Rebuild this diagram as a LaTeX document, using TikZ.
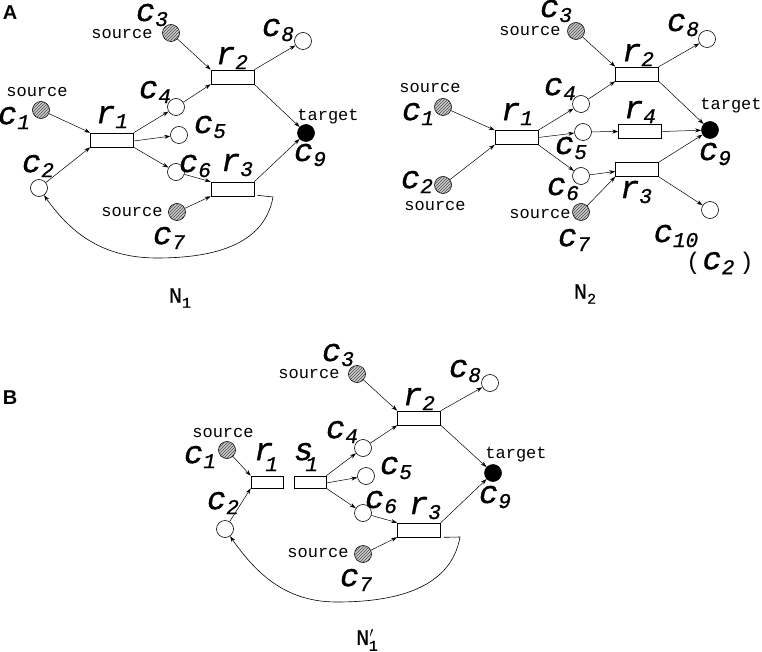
\documentclass[tikz,border=0pt]{standalone}
\usepackage{fontspec}
\setmonofont{Liberation Mono}
\setsansfont{Liberation Sans}
\newfontfamily\lfont[ItalicFeatures={FakeBold=0.9}]{Liberation Mono}
\newfontfamily\nfont[FakeBold=0.6]{Liberation Mono}
\usetikzlibrary{arrows.meta,patterns}
\newcommand\lb[2]{{\lfont\itshape\fontsize{32}{32}\selectfont #1\raisebox{-5pt}{\fontsize{21}{21}\selectfont #2}}}
\newcommand\lbd[2]{{\lfont\itshape\fontsize{32}{32}\selectfont #1\kern-8pt\raisebox{-11pt}{\fontsize{21}{21}\selectfont #2}}}
\tikzset{
  cir/.style={circle, draw, minimum size=17pt, inner sep=0pt, line width=0.6pt},
  src/.style={cir, fill=gray!40, postaction={pattern=north east lines, pattern color=black!70}},
  tgt/.style={cir, fill=black},
  rx/.style={rectangle, draw, minimum width=43pt, minimum height=14pt, inner sep=0pt, line width=0.6pt},
  rxs/.style={rectangle, draw, minimum width=32pt, minimum height=12pt, inner sep=0pt, line width=0.6pt},
  ar/.style={-{Stealth[length=6pt,width=4pt]}, line width=0.5pt},
  curv/.style={line width=0.6pt},
  txt/.style={font=\ttfamily\fontsize{17}{17}\selectfont, inner sep=0pt},
  lab/.style={inner sep=0pt},
  panel/.style={font=\sffamily\bfseries\fontsize{20}{20}\selectfont, inner sep=0pt},
  net/.style={font=\nfont\fontsize{22}{22}\selectfont, inner sep=0pt}
}
\begin{document}
\begin{tikzpicture}[x=1pt,y=-1pt]
\useasboundingbox (0,0) rectangle (762,652);
% ---------------- Panel A ----------------
\node[panel] (pA) at (10,13) {A};
\node[src] (a3) at (171,33) {};
\node[cir] (a8) at (303,41) {};
\node[rx] (ar2) at (232.5,77) {};
\node[src] (a1) at (41,110) {};
\node[rx] (ar1) at (112,140) {};
\node[cir] (a4) at (176,107) {};
\node[cir] (a5) at (179,135) {};
\node[cir] (a6) at (176,172) {};
\node[rx] (ar3) at (232.5,189) {};
\node[tgt] (a9) at (306,133) {};
\node[cir] (a2) at (39,188) {};
\node[src] (a7) at (177,212) {};
\node[lab] (la3) at (152,15) {\lb{c}{3}};
\node[txt] (ls3) at (122,34) {source};
\node[lab] (la8) at (278,30) {\lb{c}{8}};
\node[lab] (lar2) at (232,58) {\lb{r}{2}};
\node[txt] (ls1) at (37,92) {source};
\node[lab] (la1) at (14,118) {\lb{c}{1}};
\node[lab] (lar1) at (112,117) {\lb{r}{1}};
\node[lab] (la4) at (155,92) {\lb{c}{4}};
\node[lab] (la5) at (210,127) {\lb{c}{5}};
\node[lab] (la6) at (195,166) {\lb{c}{6}};
\node[lab] (lar3) at (237,165) {\lb{r}{3}};
\node[lab] (la2) at (38,166) {\lb{c}{2}};
\node[lab] (la9) at (310,155) {\lb{c}{9}};
\node[txt] (lt9) at (328,117) {target};
\node[txt] (ls7) at (132,212) {source};
\node[lab] (la7) at (169,238) {\lb{c}{7}};
\node[net] (n1) at (180,298) {N\raisebox{-5pt}{\fontsize{15}{15}\selectfont 1}};
\draw[ar] (a3) -- (ar2.north west);
\draw[ar] (a4) -- (ar2.south west);
\draw[ar] (ar2.north east) -- (a8);
\draw[ar] (ar2.south east) -- (a9);
\draw[ar] (a1) -- (ar1.north west);
\draw[ar] (a2) -- (ar1.south west);
\draw[ar] (ar1.north east) -- (a4);
\draw[ar] ([yshift=-1pt]ar1.east) -- (a5);
\draw[ar] (ar1.south east) -- (a6);
\draw[ar] (a6) -- (ar3.north west);
\draw[ar] (a7) -- (ar3.south west);
\draw[ar] (ar3.north east) -- (a9);
\coordinate (ca0) at ([xshift=3pt,yshift=1pt]ar3.south east);
\coordinate (ca1) at (273,197);
\coordinate (ca2) at (157,258);
\draw[curv,-{Stealth[length=6pt,width=4pt]}] (ca0) -- (ca1) to[out=-100,in=0] (ca2) to[out=180,in=-55] (a2);
% ---------------- Panel A right (N2) ----------------
\node[src] (b3) at (576,31) {};
\node[cir] (b8) at (707,39) {};
\node[rx] (br2) at (637,74) {};
\node[src] (b1) at (443,107) {};
\node[rx] (br1) at (516.5,137.5) {};
\node[src] (b2) at (443,185) {};
\node[cir] (b4) at (581,104) {};
\node[cir] (b5) at (583,132) {};
\node[rx] (br4) at (640,131.5) {};
\node[tgt] (b9) at (710,130) {};
\node[cir] (b6) at (581,176) {};
\node[rx] (br3) at (637,169.5) {};
\node[src] (b7) at (581,212) {};
\node[cir] (b10) at (710,210) {};
\node[lab] (lb3) at (556,11) {\lb{c}{3}};
\node[txt] (lbs3) at (530,31) {source};
\node[lab] (lb8) at (683,25) {\lb{c}{8}};
\node[lab] (lbr2) at (638,55) {\lb{r}{2}};
\node[txt] (lbs1) at (430,88) {source};
\node[lab] (lb1) at (418,114) {\lb{c}{1}};
\node[lab] (lbr1) at (517,114) {\lb{r}{1}};
\node[lab] (lb4) at (560,89) {\lb{c}{4}};
\node[lab] (lbr4) at (640,112) {\lb{r}{4}};
\node[txt] (lbt9) at (731,106) {target};
\node[lab] (lb5) at (571,148) {\lb{c}{5}};
\node[lab] (lb9) at (715,154) {\lb{c}{9}};
\node[lab] (lb2) at (417,182) {\lb{c}{2}};
\node[txt] (lbs2) at (435,206) {source};
\node[lab] (lb6) at (563,189) {\lb{c}{6}};
\node[lab] (lbr3) at (636,192) {\lb{r}{3}};
\node[txt] (lbs7) at (540,214) {source};
\node[lab] (lb7) at (574,240) {\lb{c}{7}};
\node[lab] (lb10) at (676,236) {\lb{c}{10}};
\node[lab] (lb10b) at (720,263) {{\ttfamily\fontsize{24}{24}\selectfont (\kern2pt}\lb{c}{2}{\ttfamily\fontsize{24}{24}\selectfont \kern5pt)}};
\node[net] (n2) at (585,294) {N\raisebox{-5pt}{\fontsize{15}{15}\selectfont 2}};
\draw[ar] (b3) -- (br2.north west);
\draw[ar] (b4) -- (br2.south west);
\draw[ar] (br2.north east) -- (b8);
\draw[ar] (br2.south east) -- (b9);
\draw[ar] (b1) -- (br1.north west);
\draw[ar] (b2) -- (br1.south west);
\draw[ar] (br1.north east) -- (b4);
\draw[ar] (br1.east) -- (b5);
\draw[ar] (br1.south east) -- (b6);
\draw[ar] (b5) -- (br4.west);
\draw[ar] (br4.east) -- (b9);
\draw[ar] (b6) -- ([yshift=-2pt]br3.west);
\draw[ar] (b7) -- (br3.south west);
\draw[ar] (br3.north east) -- (b9);
\draw[ar] (br3.south east) -- (b10);
% ---------------- Panel B ----------------
\node[panel] (pB) at (10,398) {B};
\node[src] (c3) at (357,374) {};
\node[cir] (c8) at (490,383) {};
\node[rx] (cr2) at (419,418) {};
\node[src] (c1) at (227,450) {};
\node[rxs] (cr1) at (267,482) {};
\node[rxs] (cs1) at (310,482) {};
\node[cir] (c4) at (363,448) {};
\node[cir] (c5) at (366,476) {};
\node[cir] (c6) at (363,513) {};
\node[rx] (cr3) at (419,530) {};
\node[tgt] (c9) at (493,473) {};
\node[cir] (c2) at (225,529) {};
\node[src] (c7) at (363,554) {};
\node[lab] (lc3) at (338,355) {\lb{c}{3}};
\node[txt] (lcs3) at (309,374) {source};
\node[lab] (lc8) at (465,371) {\lb{c}{8}};
\node[lab] (lcr2) at (419,399) {\lb{r}{2}};
\node[txt] (lcs1) at (223,433) {source};
\node[lab] (lc1) at (200,457) {\lb{c}{1}};
\node[lab] (lcr1) at (266,457) {\lbd{r}{1}};
\node[lab] (lcs1r) at (306,457) {\lbd{s}{1}};
\node[lab] (lc4) at (342,432) {\lb{c}{4}};
\node[lab] (lc5) at (396,468) {\lb{c}{5}};
\node[lab] (lc6) at (381,502) {\lb{c}{6}};
\node[lab] (lcr3) at (425,508) {\lb{r}{3}};
\node[lab] (lc9) at (495,497) {\lb{c}{9}};
\node[txt] (lct9) at (516,455) {target};
\node[lab] (lc2) at (223,503) {\lb{c}{2}};
\node[txt] (lcs7) at (318,553) {source};
\node[lab] (lc7) at (356,580) {\lb{c}{7}};
\node[net] (n3) at (367,640) {N$'$\kern-5pt\raisebox{-6pt}{\fontsize{15}{15}\selectfont 1}};
\draw[ar] (c3) -- (cr2.north west);
\draw[ar] (c4) -- (cr2.south west);
\draw[ar] (cr2.north east) -- (c8);
\draw[ar] (cr2.south east) -- (c9);
\draw[ar] (c1) -- (cr1.north west);
\draw[ar] (c2) -- (cr1.south west);
\draw[ar] (cs1.north east) -- (c4);
\draw[ar] ([yshift=-1pt]cs1.east) -- (c5);
\draw[ar] (cs1.south east) -- (c6);
\draw[ar] (c6) -- (cr3.north west);
\draw[ar] (c7) -- (cr3.south west);
\draw[ar] (cr3.north east) -- (c9);
\coordinate (cc0) at ([xshift=3pt]cr3.south east);
\coordinate (cc1) at (460,537);
\coordinate (cc2) at (337,602);
\draw[curv,-{Stealth[length=6pt,width=4pt]}] (cc0) -- (cc1) to[out=-100,in=0] (cc2) to[out=180,in=-55] (c2);
\end{tikzpicture}
\end{document}
